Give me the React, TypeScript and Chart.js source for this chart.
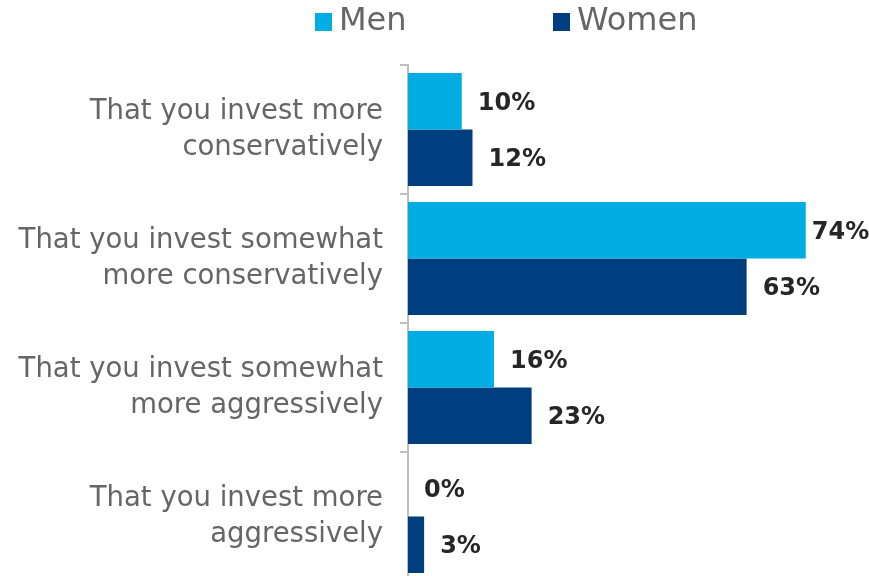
import React, { useEffect, useRef } from "react";
import { Chart, registerables } from "chart.js";

Chart.register(...registerables);

const categories: string[][] = [
  ["That you invest more", "conservatively"],
  ["That you invest somewhat", "more conservatively"],
  ["That you invest somewhat", "more aggressively"],
  ["That you invest more", "aggressively"],
];
const seriesNames = ["Men", "Women"];
const menValues = [10, 74, 16, 0];
const womenValues = [12, 63, 23, 3];
const colors = ["#00ADE3", "#003F7F"];

const FONT = "'DejaVu Sans', sans-serif";

const valueLabels = {
  id: "valueLabels",
  afterDatasetsDraw(chart: any) {
    const ctx = chart.ctx;
    ctx.save();
    ctx.font = `bold 24px ${FONT}`;
    ctx.fillStyle = "#262626";
    ctx.textBaseline = "middle";
    ctx.textAlign = "left";
    chart.data.datasets.forEach((ds: any, i: number) => {
      const meta = chart.getDatasetMeta(i);
      meta.data.forEach((bar: any, j: number) => {
        const txt = `${ds.data[j]}%`;
        const w = ctx.measureText(txt).width;
        let x = bar.x + 16;
        if (x + w > chart.width - 3) x = Math.max(bar.x + 6, chart.width - 3 - w);
        ctx.fillText(txt, x, bar.y + 2);
      });
    });
    ctx.restore();
  },
};

const topLegend = {
  id: "topLegend",
  afterDraw(chart: any) {
    const ctx = chart.ctx;
    const left = chart.chartArea.left;
    ctx.save();
    ctx.font = `32px ${FONT}`;
    ctx.textBaseline = "middle";
    const starts = [left - 93, left + 145];
    seriesNames.forEach((name, i) => {
      const x = starts[i];
      ctx.fillStyle = colors[i];
      ctx.fillRect(x, 13, 17, 18);
      ctx.fillStyle = "#666666";
      ctx.fillText(name, x + 24, 22);
    });
    ctx.restore();
  },
};

export default function App() {
  const ref = useRef<HTMLCanvasElement>(null);
  useEffect(() => {
    if (!ref.current) return;
    const chart = new Chart(ref.current, {
      type: "bar",
      data: {
        labels: categories,
        datasets: [
          { label: seriesNames[0], data: menValues, backgroundColor: colors[0], categoryPercentage: 0.875, barPercentage: 1.0 },
          { label: seriesNames[1], data: womenValues, backgroundColor: colors[1], categoryPercentage: 0.875, barPercentage: 1.0 },
        ],
      },
      options: {
        indexAxis: "y",
        animation: false,
        responsive: false,
        maintainAspectRatio: false,
        layout: { padding: { left: 8, right: 31, top: 65, bottom: 0 } },
        plugins: { legend: { display: false }, tooltip: { enabled: false } },
        scales: {
          x: { display: false, min: 0, max: 80 },
          y: {
            afterFit: (s: any) => {
              s.width = 400;
              s.paddingTop = 0;
              s.paddingBottom = 0;
            },
            border: { display: true, color: "#BFBFBF", width: 2 },
            grid: { offset: true, drawOnChartArea: false, tickLength: 8, color: "#BFBFBF", lineWidth: 2 },
            ticks: { color: "#666666", font: { family: FONT, size: 27.5, lineHeight: 1.3 }, padding: 17 },
          },
        },
      },
      plugins: [valueLabels, topLegend],
    });
    return () => chart.destroy();
  }, []);
  return (
    <div style={{ position: "fixed", left: 0, top: 0, width: 869, height: 576, overflow: "hidden", background: "#fff" }}>
      <canvas ref={ref} width={869} height={581} style={{ display: "block" }} />
    </div>
  );
}
